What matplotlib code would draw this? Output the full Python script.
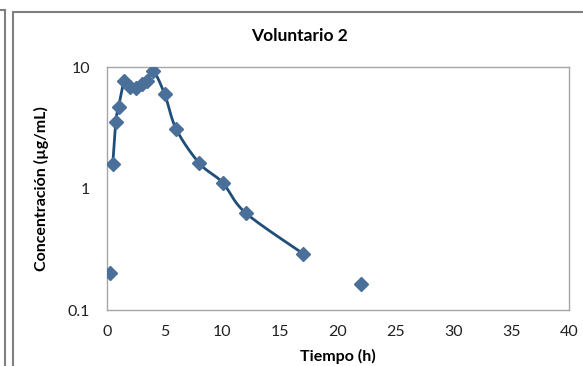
import numpy as np
import matplotlib
matplotlib.use("Agg")
import matplotlib.pyplot as plt
from matplotlib.patches import Rectangle
from matplotlib.lines import Line2D

plt.rcParams['font.family'] = ['Lato', 'DejaVu Sans']

# Data
time_h = [0.5, 0.75, 1.0, 1.5, 2.0, 2.5, 3.0, 3.5, 4.0, 5.0, 6.0, 8.0, 10.0, 12.0, 17.0]
conc = [1.6, 3.5, 4.7, 7.6, 6.9, 6.7, 7.3, 7.7, 9.3, 5.95, 3.07, 1.61, 1.12, 0.63, 0.29]
iso_time = [0.25, 22.0]
iso_conc = [0.2, 0.163]
xticks = [0, 5, 10, 15, 20, 25, 30, 35, 40]
yticks = [0.1, 1, 10]
ytick_labels = ['0.1', '1', '10']

line_color = '#1f4e79'
marker_color = '#4a6f98'

fig = plt.figure(figsize=(5.83, 3.66), dpi=100)
ax = fig.add_axes([107/583, 1-310/366, 462/583, 243/366])
ax.set_yscale('log')
ax.set_xlim(0, 40)
ax.set_ylim(0.1, 10)

# Excel-like smoothed line (Catmull-Rom / Bezier) computed in display space
def smooth(xs, ys, n=30):
    pts = ax.transData.transform(np.column_stack([xs, ys]))
    P = np.vstack([pts[0], pts, pts[-1]])
    out = []
    for i in range(1, len(P) - 2):
        p0, p1, p2, p3 = P[i-1], P[i], P[i+1], P[i+2]
        c1 = p1 + (p2 - p0) / 6.0
        c2 = p2 - (p3 - p1) / 6.0
        t = np.linspace(0, 1, n)[:, None]
        seg = ((1-t)**3)*p1 + 3*((1-t)**2)*t*c1 + 3*(1-t)*(t**2)*c2 + (t**3)*p2
        out.append(seg)
    out = np.vstack(out)
    return ax.transData.inverted().transform(out)

curve = smooth(time_h, conc)
ax.plot(curve[:, 0], curve[:, 1], color=line_color, lw=2.0, zorder=2)
ax.plot(time_h, conc, linestyle='none', marker='D', ms=7.5, color=marker_color,
        markeredgecolor=marker_color, zorder=3)
ax.plot(iso_time, iso_conc, linestyle='none', marker='D', ms=7.5, color=marker_color,
        markeredgecolor=marker_color, zorder=3)

ax.set_xticks(xticks)
ax.set_xticklabels([str(v) for v in xticks])
ax.set_yticks(yticks)
ax.set_yticklabels(ytick_labels)
ax.yaxis.set_minor_locator(matplotlib.ticker.NullLocator())
ax.tick_params(axis='both', length=0, labelsize=11.5, colors='#222222')
ax.tick_params(axis='x', pad=11)
ax.tick_params(axis='y', pad=12)
for s in ax.spines.values():
    s.set_color('#a6a6a6')
    s.set_linewidth(1.0)

ax.set_xlabel('Tiempo (h)', fontsize=11.5, fontweight='bold', labelpad=7)
ax.set_ylabel('Concentración (µg/mL)', fontsize=11.5, fontweight='bold', labelpad=14)
fig.text(0.5 + 8/583, 1 - 36/366, 'Voluntario 2', ha='center', va='center',
         fontsize=12.5, fontweight='bold')

# Outer chart frame
fig.patches.append(Rectangle((13/583, -0.05), 1.0, 1 - 12/366 + 0.05,
                             transform=fig.transFigure, fill=False,
                             edgecolor='#7f7f7f', lw=1.5))
fig.lines.append(Line2D([5/583, 5/583], [0, 1 - 10/366], transform=fig.transFigure,
                        color='#7f7f7f', lw=1.5))
fig.lines.append(Line2D([0, 5/583], [1 - 10/366, 1 - 10/366], transform=fig.transFigure,
                        color='#7f7f7f', lw=1.5))

fig.savefig('out.png', dpi=100)
